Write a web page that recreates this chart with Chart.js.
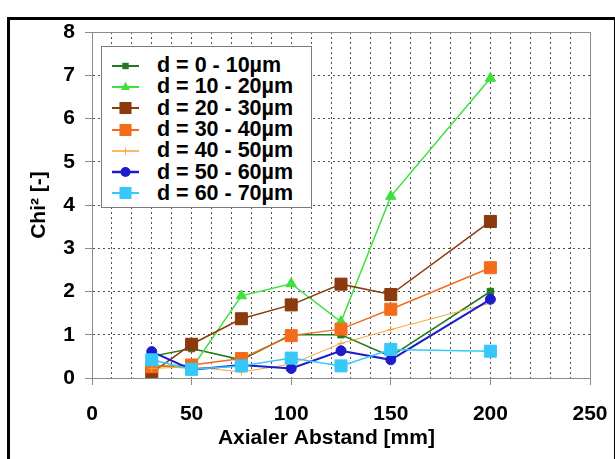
<!DOCTYPE html>
<html lang="de">
<head>
    <meta charset="UTF-8">
    <title>Chi² über axialem Abstand</title>
    <script src="https://cdn.jsdelivr.net/npm/chart.js"></script>
    <style>
        body {
            margin: 0;
            padding: 0;
            background: #ffffff;
            font-family: 'Liberation Sans', Arial, sans-serif;
        }

        .wrap {
            position: relative;
            width: 615px;
            height: 459px;
            overflow: hidden;
        }

        /* black frame around the figure, open at the bottom */
        .frame {
            position: absolute;
            left: 7px;
            top: 17px;
            width: 604px;
            height: 460px;
            border: 3px solid #000;
            border-bottom: none;
            pointer-events: none;
        }

        canvas {
            position: absolute;
            left: 0;
            top: 0;
        }

        /* legend box inside the plot */
        .legend {
            position: absolute;
            left: 101px;
            top: 46px;
            width: 211px;
            height: 162px;
            box-sizing: border-box;
            border: 1px solid #7a7a7a;
            background: #fff;
            padding-top: 8px;
        }

        .legend .row {
            display: flex;
            align-items: center;
            height: 21.3px;
        }

        .legend svg {
            margin-left: 10px;
            width: 27px;
            height: 20px;
        }

        .legend span {
            margin-left: 18px;
            font: bold 21.5px 'Liberation Sans', Arial, sans-serif;
            color: #000;
            white-space: nowrap;
        }
    </style>
</head>
<body>

<div class="wrap">
    <canvas id="chiChart" width="615" height="459"></canvas>
    <div class="legend" id="legend"></div>
    <div class="frame"></div>
</div>

<script>
    // axial distance [mm]
    const distances = [30, 50, 75, 100, 125, 150, 200];

    // Chi² per particle size class
    const d0_10  = [0.50, 0.68, 0.42, 1.00, 1.00, 0.50, 2.00];
    const d10_20 = [0.30, 0.22, 1.90, 2.18, 1.30, 4.20, 6.93];
    const d20_30 = [0.12, 0.78, 1.37, 1.69, 2.17, 1.93, 3.62];
    const d30_40 = [0.26, 0.30, 0.45, 0.98, 1.13, 1.59, 2.55];
    const d40_50 = [0.22, 0.26, 0.14, 0.32, 0.80, 1.12, 1.73];
    const d50_60 = [0.61, 0.19, 0.30, 0.22, 0.63, 0.42, 1.82];
    const d60_70 = [0.42, 0.20, 0.28, 0.46, 0.28, 0.66, 0.62];

    const seriesLabels = ['d = 0 - 10µm', 'd = 10 - 20µm', 'd = 20 - 30µm', 'd = 30 - 40µm',
                          'd = 40 - 50µm', 'd = 50 - 60µm', 'd = 60 - 70µm'];
    const seriesValues = [d0_10, d10_20, d20_30, d30_40, d40_50, d50_60, d60_70];

    const colors = ['#217a21', '#3ee03e', '#8a3a0c', '#f36c1c', '#f5a536', '#1c1ccc', '#36c8f8'];
    const markers = ['rect', 'triangle', 'rect', 'rect', 'cross', 'circle', 'rect'];
    const markerSize = [4.5, 6, 8.5, 8.5, 3.5, 5, 8.5];
    const lineWidths = [1.5, 1.5, 1.5, 1.5, 1, 2, 1.5];

    const boldFont = { family: "'Liberation Sans', Arial, sans-serif", size: 21, weight: 'bold' };
    const gridGray = '#505050';
    const axisGray = '#8c8c8c';

    const datasets = seriesValues.map((vals, i) => ({
        label: seriesLabels[i],
        data: vals.map((v, j) => ({ x: distances[j], y: v })),
        borderColor: colors[i],
        backgroundColor: colors[i],
        borderWidth: lineWidths[i],
        pointStyle: markers[i],
        pointRadius: markerSize[i],
        pointBorderWidth: 1,
        pointBorderColor: colors[i],
        pointBackgroundColor: colors[i],
        tension: 0,
        order: seriesValues.length - i   // last series on top, like the original
    }));

    // frame around the plot area (top + right side)
    const plotBorder = {
        id: 'plotBorder',
        afterDraw(chart) {
            const a = chart.chartArea;
            const ctx = chart.ctx;
            ctx.save();
            ctx.strokeStyle = axisGray;
            ctx.lineWidth = 1;
            ctx.strokeRect(a.left + 0.5, a.top + 0.5, a.right - a.left, a.bottom - a.top);
            ctx.restore();
        }
    };

    new Chart(document.getElementById('chiChart'), {
        type: 'line',
        data: { datasets: datasets },
        options: {
            responsive: false,
            animation: false,
            layout: { padding: { left: 0, top: 32, right: 25, bottom: 0 } },
            plugins: {
                legend: { display: false },
                tooltip: { enabled: false }
            },
            scales: {
                x: {
                    type: 'linear',
                    min: 0,
                    max: 250,
                    afterFit(scale) {
                        scale.height = 81;
                        scale.paddingLeft = 0;
                        scale.paddingRight = 0;
                    },
                    ticks: {
                        stepSize: 10,
                        autoSkip: false,
                        maxRotation: 0,
                        padding: 17,
                        color: '#000',
                        font: boldFont,
                        callback: (v) => (v % 50 === 0 ? v : '')
                    },
                    grid: {
                        color: gridGray,
                        lineWidth: 1,
                        tickLength: 7,
                        tickColor: (c) => (c.tick && c.tick.value % 50 === 0 ? axisGray : 'rgba(0,0,0,0)')
                    },
                    border: { color: axisGray, width: 1, dash: [2, 3] },
                    title: {
                        display: true,
                        text: 'Axialer Abstand [mm]\u00a0\u00a0\u00a0\u00a0\u00a0',
                        color: '#000',
                        font: boldFont,
                        padding: { top: 0, bottom: 8 }
                    }
                },
                y: {
                    min: 0,
                    max: 8,
                    afterFit(scale) {
                        scale.width = 92;
                        scale.paddingTop = 0;
                        scale.paddingBottom = 0;
                    },
                    ticks: {
                        stepSize: 1,
                        padding: 10,
                        color: '#000',
                        font: boldFont
                    },
                    grid: {
                        color: gridGray,
                        lineWidth: 1,
                        tickLength: 7,
                        tickColor: axisGray
                    },
                    border: { color: axisGray, width: 1, dash: [2, 3] },
                    title: {
                        display: true,
                        text: 'Chi² [-]',
                        color: '#000',
                        font: boldFont,
                        padding: { top: 27, bottom: 0 }
                    }
                }
            }
        },
        plugins: [plotBorder]
    });

    // legend with line + marker, like the spreadsheet legend
    function markerSvg(i) {
        const c = colors[i];
        const r = markerSize[i];
        let shape = '';
        if (markers[i] === 'rect') {
            const s = r * Math.SQRT1_2;
            shape = `<rect x="${13.5 - s}" y="${10 - s}" width="${2 * s}" height="${2 * s}" fill="${c}"/>`;
        } else if (markers[i] === 'triangle') {
            const h = r * 1.3;
            shape = `<polygon points="13.5,${10 - h * 0.66} ${13.5 - r * 0.75},${10 + h * 0.4} ${13.5 + r * 0.75},${10 + h * 0.4}" fill="${c}"/>`;
        } else if (markers[i] === 'circle') {
            shape = `<circle cx="13.5" cy="10" r="${r}" fill="${c}"/>`;
        } else if (markers[i] === 'cross') {
            shape = `<line x1="13.5" y1="${10 - r}" x2="13.5" y2="${10 + r}" stroke="${c}" stroke-width="1"/>`;
        }
        return `<svg viewBox="0 0 27 20"><line x1="0" y1="10" x2="27" y2="10" stroke="${c}" stroke-width="${lineWidths[i] + 0.5}"/>${shape}</svg>`;
    }

    const legendBox = document.getElementById('legend');
    seriesLabels.forEach((label, i) => {
        const row = document.createElement('div');
        row.className = 'row';
        row.innerHTML = markerSvg(i) + '<span></span>';
        row.querySelector('span').textContent = label;
        legendBox.appendChild(row);
    });
</script>

</body>
</html>
